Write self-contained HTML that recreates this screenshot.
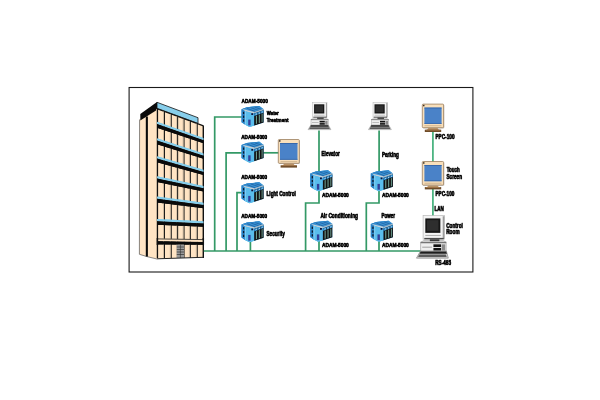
<!DOCTYPE html>
<html><head><meta charset="utf-8"><title>Building automation network</title>
<style>
html,body{margin:0;padding:0;background:#fff;}
body{width:600px;height:400px;overflow:hidden;font-family:"Liberation Sans",sans-serif;}
svg{display:block;}
</style></head><body>
<svg width="600" height="400" viewBox="0 0 600 400">
<rect width="600" height="400" fill="#fff"/>
<rect x="129.1" y="87.5" width="343.8" height="184.5" fill="none" stroke="#1a1a1a" stroke-width="1.1"/>
<g><polygon points="139.50,119.50 157.50,108.00 157.50,259.00 147.00,256.60 139.30,254.30" fill="#FFE4C4" />
<polygon points="140.30,114.10 157.00,102.10 157.60,109.40 140.30,120.60" fill="#0a0a0a" />
<rect x="145.8" y="116.5" width="2.1" height="140.3" fill="#0a0a0a"/>
<path d="M139.6 119.5 L139.4 254.3 L147 256.6 L157 259" fill="none" stroke="#555" stroke-width="0.7"/>
<polygon points="157.00,108.00 203.50,125.70 203.50,257.00 157.00,258.60" fill="#FFE4C4" />
<polygon points="157.00,102.30 198.00,117.70 198.00,123.40 157.00,108.30" fill="#87CEEB" stroke="#111" stroke-width="0.8"/>
<path d="M157 108.8 L203.5 125.9" stroke="#111" stroke-width="1.2" fill="none"/>
<polygon points="157.00,121.75 203.50,137.90 203.50,140.20 157.00,124.05" fill="#87CEEB" />
<polygon points="157.00,124.05 203.50,140.20 203.50,143.30 157.00,127.65" fill="#0a0a0a" />
<polygon points="157.00,138.25 203.50,153.40 203.50,155.70 157.00,140.55" fill="#87CEEB" />
<polygon points="157.00,140.55 203.50,155.70 203.50,158.80 157.00,144.15" fill="#0a0a0a" />
<polygon points="157.00,156.25 203.50,169.70 203.50,172.00 157.00,158.55" fill="#87CEEB" />
<polygon points="157.00,158.55 203.50,172.00 203.50,175.10 157.00,162.15" fill="#0a0a0a" />
<polygon points="157.00,176.20 203.50,186.00 203.50,188.30 157.00,178.50" fill="#87CEEB" />
<polygon points="157.00,178.50 203.50,188.30 203.50,191.40 157.00,182.10" fill="#0a0a0a" />
<polygon points="157.00,196.50 203.50,202.80 203.50,205.10 157.00,198.80" fill="#87CEEB" />
<polygon points="157.00,198.80 203.50,205.10 203.50,208.20 157.00,202.40" fill="#0a0a0a" />
<polygon points="157.00,218.90 203.50,221.30 203.50,223.60 157.00,221.20" fill="#87CEEB" />
<polygon points="157.00,221.20 203.50,223.60 203.50,226.70 157.00,224.80" fill="#0a0a0a" />
<polygon points="157.00,240.50 203.50,242.40 203.50,244.80 157.00,244.30" fill="#0a0a0a" />
<line x1="157.40" y1="108.95" x2="157.40" y2="258.00" stroke="#111" stroke-width="1.4"/>
<line x1="156.50" y1="108.95" x2="156.50" y2="258.00" stroke="#c9b59c" stroke-width="0.8"/>
<line x1="164.40" y1="111.52" x2="164.40" y2="258.00" stroke="#111" stroke-width="1.1"/>
<line x1="163.50" y1="111.52" x2="163.50" y2="258.00" stroke="#c9b59c" stroke-width="0.8"/>
<line x1="171.20" y1="114.02" x2="171.20" y2="258.00" stroke="#111" stroke-width="1.1"/>
<line x1="170.30" y1="114.02" x2="170.30" y2="258.00" stroke="#c9b59c" stroke-width="0.8"/>
<line x1="177.60" y1="116.38" x2="177.60" y2="258.00" stroke="#111" stroke-width="1.1"/>
<line x1="176.70" y1="116.38" x2="176.70" y2="258.00" stroke="#c9b59c" stroke-width="0.8"/>
<line x1="184.00" y1="118.73" x2="184.00" y2="258.00" stroke="#111" stroke-width="1.1"/>
<line x1="183.10" y1="118.73" x2="183.10" y2="258.00" stroke="#c9b59c" stroke-width="0.8"/>
<line x1="190.30" y1="121.05" x2="190.30" y2="258.00" stroke="#111" stroke-width="1.1"/>
<line x1="189.40" y1="121.05" x2="189.40" y2="258.00" stroke="#c9b59c" stroke-width="0.8"/>
<line x1="197.20" y1="123.58" x2="197.20" y2="258.00" stroke="#111" stroke-width="1.1"/>
<line x1="196.30" y1="123.58" x2="196.30" y2="258.00" stroke="#c9b59c" stroke-width="0.8"/>
<line x1="203.30" y1="125.83" x2="203.30" y2="258.00" stroke="#111" stroke-width="1.4"/>
<polygon points="157.00,121.75 203.50,137.90 203.50,140.20 157.00,124.05" fill="#87CEEB" />
<polygon points="157.00,124.05 203.50,140.20 203.50,143.30 157.00,127.65" fill="#0a0a0a" />
<polygon points="157.00,138.25 203.50,153.40 203.50,155.70 157.00,140.55" fill="#87CEEB" />
<polygon points="157.00,140.55 203.50,155.70 203.50,158.80 157.00,144.15" fill="#0a0a0a" />
<polygon points="157.00,156.25 203.50,169.70 203.50,172.00 157.00,158.55" fill="#87CEEB" />
<polygon points="157.00,158.55 203.50,172.00 203.50,175.10 157.00,162.15" fill="#0a0a0a" />
<polygon points="157.00,176.20 203.50,186.00 203.50,188.30 157.00,178.50" fill="#87CEEB" />
<polygon points="157.00,178.50 203.50,188.30 203.50,191.40 157.00,182.10" fill="#0a0a0a" />
<polygon points="157.00,196.50 203.50,202.80 203.50,205.10 157.00,198.80" fill="#87CEEB" />
<polygon points="157.00,198.80 203.50,205.10 203.50,208.20 157.00,202.40" fill="#0a0a0a" />
<polygon points="157.00,218.90 203.50,221.30 203.50,223.60 157.00,221.20" fill="#87CEEB" />
<polygon points="157.00,221.20 203.50,223.60 203.50,226.70 157.00,224.80" fill="#0a0a0a" />
<polygon points="157.00,238.60 203.50,239.40 203.50,242.00 157.00,241.20" fill="#FFE4C4" />
<path d="M157 238.9 L203.5 239.6" stroke="#222" stroke-width="0.8" fill="none"/>
<polygon points="157.00,241.20 203.50,241.90 203.50,244.80 157.00,244.60" fill="#0a0a0a" />
<line x1="157.4" y1="238" x2="157.4" y2="245" stroke="#111" stroke-width="1.5"/>
<line x1="203.3" y1="238" x2="203.3" y2="245" stroke="#111" stroke-width="1.5"/>
<rect x="176.8" y="244.6" width="7.2" height="13.4" fill="#9a9a9a"/>
<line x1="176.8" y1="247.0" x2="184" y2="247.0" stroke="#333" stroke-width="0.7"/>
<line x1="176.8" y1="249.5" x2="184" y2="249.5" stroke="#333" stroke-width="0.7"/>
<line x1="176.8" y1="252.0" x2="184" y2="252.0" stroke="#333" stroke-width="0.7"/>
<line x1="176.8" y1="254.5" x2="184" y2="254.5" stroke="#333" stroke-width="0.7"/>
<line x1="180.4" y1="244.6" x2="180.4" y2="258" stroke="#333" stroke-width="0.6"/>
<path d="M157 258.8 L203.5 257.3" stroke="#222" stroke-width="1" fill="none"/></g>
<path d="M203.8 251 H421" fill="none" stroke="#339966" stroke-width="1.7"/>
<path d="M214.7 251 V117 H242" fill="none" stroke="#339966" stroke-width="1.7"/>
<path d="M226.1 251 V152.8 H242" fill="none" stroke="#339966" stroke-width="1.7"/>
<path d="M237 251 V192.6 H242" fill="none" stroke="#339966" stroke-width="1.7"/>
<path d="M250.4 241 V251" fill="none" stroke="#339966" stroke-width="1.7"/>
<path d="M263 152.8 H279" fill="none" stroke="#339966" stroke-width="1.7"/>
<path d="M319 130.6 V172 M319 190 V203 H305.6 V251 M319 240 V251" fill="none" stroke="#339966" stroke-width="1.7"/>
<path d="M379.1 130.6 V172 M379 190 V203 H366.3 V251 M379 240 V251" fill="none" stroke="#339966" stroke-width="1.7"/>
<path d="M432.9 131.5 V162 M432.9 188.5 V216" fill="none" stroke="#4DB482" stroke-width="1.8"/>
<defs>
<g id="adam">
<polygon points="0,3.3 5.5,1.3 17.9,0 22.1,3.3 22.1,16.4 13,19.4 8,21 3.4,18.6 0,16.2" fill="#3B9FDC"/>
<polygon points="0,3.3 5.5,1.3 17.9,0 22.1,3.3 12.7,7.6 3.4,5" fill="#3A93D4"/>
<path d="M5.6 2.4 L14.6 5.9 M9.4 1.7 L17.6 4.6 M13.4 1.2 L20.2 3.5" stroke="#205E9E" stroke-width="0.8" fill="none"/>
<path d="M1 3.3 L5.7 1.7 L17.8 0.5" stroke="#2B7FC4" stroke-width="0.8" fill="none"/>
<polygon points="1.0,3.1 12.7,5.9 12.7,7.8 3.4,5.2" fill="#C9D0D4"/>
<polygon points="12.7,5.9 22.1,2.8 22.1,4.4 12.7,7.8" fill="#A3BACA"/>
<polygon points="0,3.3 3.4,5 3.4,18.6 0,16.2" fill="#2C84C8"/>
<rect x="1.5" y="5.8" width="1.3" height="2.3" fill="#0d1a2a"/>
<rect x="1.5" y="9.6" width="1.3" height="2.3" fill="#0d1a2a"/>
<rect x="1.5" y="13.4" width="1.3" height="2.3" fill="#0d1a2a"/>
<polygon points="3.4,5 12.7,7.6 12.7,19.5 8,21 3.4,18.6" fill="#5ABDEC"/>
<polygon points="3.4,5 4.4,5.3 4.4,19.1 3.4,18.6" fill="#86D0F2"/>
<polygon points="12.7,7.6 22.1,4.3 22.1,16.4 12.7,19.5" fill="#121212"/>
<polygon points="14.4,10 15.5,9.6 15.5,17.6 14.4,18" fill="#6A9A8E"/>
<polygon points="17.3,9 18.4,8.6 18.4,16.7 17.3,17.1" fill="#6A9A8E"/>
<polygon points="20.1,8 21.1,7.6 21.1,15.8 20.1,16.2" fill="#6A9A8E"/>
<polygon points="12.7,7.6 22.1,4.3 22.1,6.8 12.7,10.1" fill="#2E8ED2"/>
<path d="M14.2 8.4 L15.6 7.9 M17.2 7.4 L18.6 6.9 M20 6.4 L21.3 5.9" stroke="#d8ecf8" stroke-width="0.7"/>
<path d="M16.3 6.6 V9 M19.2 5.6 V8" stroke="#123" stroke-width="0.6"/>
<rect x="6.7" y="13.6" width="2.4" height="5.8" fill="#33409a"/>
<rect x="9.8" y="7.2" width="1.9" height="1.8" fill="#10103a"/>
</g>
</defs>
<use href="#adam" x="241.5" y="106.0"/>
<use href="#adam" x="241.5" y="141.7"/>
<use href="#adam" x="241.5" y="182.3"/>
<use href="#adam" x="241.5" y="221.3"/>
<use href="#adam" x="310.2" y="170.3"/>
<use href="#adam" x="310.2" y="220.8"/>
<use href="#adam" x="370.8" y="170.3"/>
<use href="#adam" x="370.8" y="220.8"/>
<rect x="279.0" y="140.2" width="21.0" height="23.8" rx="0.9" fill="#c9c9c9"/>
<rect x="278.3" y="139.5" width="21.0" height="23.8" rx="0.9" fill="#F8DFBB" stroke="#9c7f5e" stroke-width="0.8"/>
<rect x="280.0" y="143.0" width="17.5" height="16.7" fill="#4A82C8"/>
<rect x="280.0" y="143.0" width="17.5" height="0.9" fill="#3565a8"/>
<rect x="280.0" y="158.9" width="17.5" height="0.8" fill="#3565a8"/>
<rect x="280.5" y="161.3" width="16.6" height="0.8" fill="#c9ab84"/>
<polygon points="284.20,163.60 293.40,163.60 294.80,165.50 282.80,165.50" fill="#b99368" />
<rect x="280.6" y="165.3" width="16.4" height="2.3" fill="#6e4b28"/>
<rect x="281.6" y="165.3" width="14.4" height="0.8" fill="#a87b4c"/>
<rect x="279.0" y="140.2" width="1.5" height="1.5" fill="#3a3024"/>
<rect x="423.0" y="104.8" width="21.3" height="23.6" rx="0.9" fill="#c9c9c9"/>
<rect x="422.3" y="104.1" width="21.3" height="23.6" rx="0.9" fill="#F8DFBB" stroke="#9c7f5e" stroke-width="0.8"/>
<rect x="424.4" y="107.6" width="17.2" height="16.2" fill="#4A82C8"/>
<rect x="424.4" y="107.6" width="17.2" height="0.9" fill="#3565a8"/>
<rect x="424.4" y="123.0" width="17.2" height="0.8" fill="#3565a8"/>
<rect x="424.5" y="125.4" width="16.9" height="0.8" fill="#c9ab84"/>
<polygon points="428.35,128.00 437.55,128.00 438.95,129.90 426.95,129.90" fill="#b99368" />
<rect x="424.8" y="129.7" width="16.4" height="2.3" fill="#6e4b28"/>
<rect x="425.8" y="129.7" width="14.4" height="0.8" fill="#a87b4c"/>
<rect x="423.0" y="104.8" width="1.5" height="1.5" fill="#3a3024"/>
<rect x="423.0" y="162.2" width="21.3" height="23.6" rx="0.9" fill="#c9c9c9"/>
<rect x="422.3" y="161.5" width="21.3" height="23.6" rx="0.9" fill="#F8DFBB" stroke="#9c7f5e" stroke-width="0.8"/>
<rect x="424.4" y="165.0" width="17.2" height="16.2" fill="#4A82C8"/>
<rect x="424.4" y="165.0" width="17.2" height="0.9" fill="#3565a8"/>
<rect x="424.4" y="180.4" width="17.2" height="0.8" fill="#3565a8"/>
<rect x="424.5" y="182.8" width="16.9" height="0.8" fill="#c9ab84"/>
<polygon points="428.35,185.40 437.55,185.40 438.95,187.30 426.95,187.30" fill="#b99368" />
<rect x="424.8" y="187.1" width="16.4" height="2.3" fill="#6e4b28"/>
<rect x="425.8" y="187.1" width="14.4" height="0.8" fill="#a87b4c"/>
<rect x="423.0" y="162.2" width="1.5" height="1.5" fill="#3a3024"/>
<rect x="312.60" y="102.50" width="14.40" height="15.00" fill="#F3F3F3" stroke="#b8b8b8" stroke-width="0.5"/>
<rect x="325.90" y="102.90" width="1.10" height="14.40" fill="#9c9c9c"/>
<rect x="314.10" y="104.30" width="10.20" height="9.20" fill="#161616"/>
<rect x="315.20" y="105.40" width="7.80" height="6.80" fill="#2e2e2e"/>
<rect x="314.10" y="114.80" width="10.50" height="0.70" fill="#b0b0b0"/>
<rect x="313.40" y="116.70" width="13.20" height="0.90" fill="#4a4a4a"/>
<rect x="317.20" y="117.80" width="6.40" height="1.30" fill="#383838"/>
<polygon points="313.00,118.40 326.40,118.40 328.20,119.50 311.00,119.50" fill="#E6E6E6" stroke="#9a9a9a" stroke-width="0.40"/>
<rect x="317.20" y="117.70" width="6.40" height="1.10" fill="#383838"/>
<rect x="311.00" y="119.40" width="17.20" height="5.80" fill="#EFEFEF" stroke="#a0a0a0" stroke-width="0.5"/>
<rect x="311.00" y="119.40" width="17.20" height="0.70" fill="#6a6a6a"/>
<rect x="319.60" y="120.80" width="5.20" height="1.70" fill="#111"/>
<rect x="319.60" y="123.10" width="5.20" height="1.70" fill="#111"/>
<rect x="325.20" y="120.80" width="2.40" height="4.00" fill="#8a8a8a"/>
<rect x="312.00" y="122.30" width="6.60" height="0.60" fill="#9a9a9a"/>
<polygon points="310.80,125.10 328.40,125.10 330.90,129.60 308.10,129.60" fill="#CFCFCF" stroke="#8a8a8a" stroke-width="0.50"/>
<polygon points="310.90,125.30 328.20,125.30 328.80,126.80 310.20,126.80" fill="#1e1e1e" />
<polygon points="309.90,127.30 329.20,127.30 329.80,128.90 309.20,128.90" fill="#5c5c5c" />
<rect x="373.00" y="102.50" width="14.40" height="15.00" fill="#F3F3F3" stroke="#b8b8b8" stroke-width="0.5"/>
<rect x="386.30" y="102.90" width="1.10" height="14.40" fill="#9c9c9c"/>
<rect x="374.50" y="104.30" width="10.20" height="9.20" fill="#161616"/>
<rect x="375.60" y="105.40" width="7.80" height="6.80" fill="#2e2e2e"/>
<rect x="374.50" y="114.80" width="10.50" height="0.70" fill="#b0b0b0"/>
<rect x="373.80" y="116.70" width="13.20" height="0.90" fill="#4a4a4a"/>
<rect x="377.60" y="117.80" width="6.40" height="1.30" fill="#383838"/>
<polygon points="373.40,118.40 386.80,118.40 388.60,119.50 371.40,119.50" fill="#E6E6E6" stroke="#9a9a9a" stroke-width="0.40"/>
<rect x="377.60" y="117.70" width="6.40" height="1.10" fill="#383838"/>
<rect x="371.40" y="119.40" width="17.20" height="5.80" fill="#EFEFEF" stroke="#a0a0a0" stroke-width="0.5"/>
<rect x="371.40" y="119.40" width="17.20" height="0.70" fill="#6a6a6a"/>
<rect x="380.00" y="120.80" width="5.20" height="1.70" fill="#111"/>
<rect x="380.00" y="123.10" width="5.20" height="1.70" fill="#111"/>
<rect x="385.60" y="120.80" width="2.40" height="4.00" fill="#8a8a8a"/>
<rect x="372.40" y="122.30" width="6.60" height="0.60" fill="#9a9a9a"/>
<polygon points="371.20,125.10 388.80,125.10 391.30,129.60 368.50,129.60" fill="#CFCFCF" stroke="#8a8a8a" stroke-width="0.50"/>
<polygon points="371.30,125.30 388.60,125.30 389.20,126.80 370.60,126.80" fill="#1e1e1e" />
<polygon points="370.30,127.30 389.60,127.30 390.20,128.90 369.60,128.90" fill="#5c5c5c" />
<rect x="423.10" y="215.60" width="21.24" height="23.55" fill="#F3F3F3" stroke="#b8b8b8" stroke-width="0.7"/>
<rect x="442.72" y="216.23" width="1.62" height="22.61" fill="#9c9c9c"/>
<rect x="425.31" y="218.43" width="15.04" height="14.44" fill="#161616"/>
<rect x="426.94" y="220.15" width="11.51" height="10.68" fill="#2e2e2e"/>
<rect x="425.31" y="234.91" width="15.49" height="1.10" fill="#b0b0b0"/>
<rect x="424.28" y="237.89" width="19.47" height="1.41" fill="#4a4a4a"/>
<rect x="429.89" y="239.62" width="9.44" height="2.04" fill="#383838"/>
<polygon points="423.69,240.56 443.46,240.56 446.11,242.29 420.74,242.29" fill="#E6E6E6" stroke="#9a9a9a" stroke-width="0.59"/>
<rect x="429.89" y="239.46" width="9.44" height="1.73" fill="#383838"/>
<rect x="420.74" y="242.13" width="25.37" height="9.11" fill="#EFEFEF" stroke="#a0a0a0" stroke-width="0.7"/>
<rect x="420.74" y="242.13" width="25.37" height="1.10" fill="#6a6a6a"/>
<rect x="433.43" y="244.33" width="7.67" height="2.67" fill="#111"/>
<rect x="433.43" y="247.94" width="7.67" height="2.67" fill="#111"/>
<rect x="441.69" y="244.33" width="3.54" height="6.28" fill="#8a8a8a"/>
<rect x="422.22" y="246.69" width="9.73" height="0.94" fill="#9a9a9a"/>
<polygon points="420.45,251.08 446.41,251.08 448.32,258.15 416.46,258.15" fill="#CFCFCF" stroke="#8a8a8a" stroke-width="0.74"/>
<polygon points="420.59,251.40 446.11,251.40 447.00,253.75 419.56,253.75" fill="#1e1e1e" />
<polygon points="419.12,254.54 445.82,254.54 446.70,257.05 418.09,257.05" fill="#5c5c5c" />
<filter id="tb" x="-5%" y="-20%" width="110%" height="140%"><feGaussianBlur stdDeviation="0.2"/></filter>
<g font-family="Liberation Sans, sans-serif" font-weight="bold" fill="#000" stroke="#000" stroke-width="0.62" stroke-linejoin="round" filter="url(#tb)">
<text x="241.50" y="102.75" textLength="26.30" lengthAdjust="spacingAndGlyphs" font-size="5.92">ADAM-5000</text>
<text x="241.20" y="138.85" textLength="26.00" lengthAdjust="spacingAndGlyphs" font-size="5.92">ADAM-5000</text>
<text x="241.20" y="178.55" textLength="26.00" lengthAdjust="spacingAndGlyphs" font-size="5.92">ADAM-5000</text>
<text x="241.20" y="217.55" textLength="26.00" lengthAdjust="spacingAndGlyphs" font-size="5.92">ADAM-5000</text>
<text x="266.70" y="115.35" textLength="12.10" lengthAdjust="spacingAndGlyphs" font-size="5.66">Water</text>
<text x="266.70" y="122.35" textLength="21.80" lengthAdjust="spacingAndGlyphs" font-size="5.66">Treatment</text>
<text x="266.50" y="195.55" textLength="29.30" lengthAdjust="spacingAndGlyphs" font-size="6.32">Light Control</text>
<text x="266.50" y="236.05" textLength="18.30" lengthAdjust="spacingAndGlyphs" font-size="6.32">Security</text>
<text x="321.50" y="156.45" textLength="18.30" lengthAdjust="spacingAndGlyphs" font-size="6.32">Elevator</text>
<text x="381.90" y="157.15" textLength="16.90" lengthAdjust="spacingAndGlyphs" font-size="6.32">Parking</text>
<text x="321.90" y="196.85" textLength="26.90" lengthAdjust="spacingAndGlyphs" font-size="5.92">ADAM-5000</text>
<text x="381.90" y="196.85" textLength="26.90" lengthAdjust="spacingAndGlyphs" font-size="5.92">ADAM-5000</text>
<text x="320.40" y="218.15" textLength="37.60" lengthAdjust="spacingAndGlyphs" font-size="6.32">Air Conditioning</text>
<text x="381.50" y="218.15" textLength="13.60" lengthAdjust="spacingAndGlyphs" font-size="6.32">Power</text>
<text x="321.90" y="246.85" textLength="26.90" lengthAdjust="spacingAndGlyphs" font-size="5.92">ADAM-5000</text>
<text x="381.90" y="246.85" textLength="26.90" lengthAdjust="spacingAndGlyphs" font-size="5.92">ADAM-5000</text>
<text x="435.50" y="138.55" textLength="19.00" lengthAdjust="spacingAndGlyphs" font-size="6.32">PPC-100</text>
<text x="435.40" y="195.85" textLength="19.00" lengthAdjust="spacingAndGlyphs" font-size="6.32">PPC-100</text>
<text x="446.70" y="172.05" textLength="13.10" lengthAdjust="spacingAndGlyphs" font-size="6.32">Touch</text>
<text x="446.40" y="178.95" textLength="15.70" lengthAdjust="spacingAndGlyphs" font-size="6.32">Screen</text>
<text x="434.50" y="210.55" textLength="9.30" lengthAdjust="spacingAndGlyphs" font-size="6.32">LAN</text>
<text x="446.20" y="227.55" textLength="16.60" lengthAdjust="spacingAndGlyphs" font-size="6.32">Control</text>
<text x="446.20" y="234.15" textLength="13.40" lengthAdjust="spacingAndGlyphs" font-size="6.32">Room</text>
<text x="435.20" y="265.45" textLength="15.90" lengthAdjust="spacingAndGlyphs" font-size="6.32">RS-485</text>
</g>
</svg>
</body></html>
